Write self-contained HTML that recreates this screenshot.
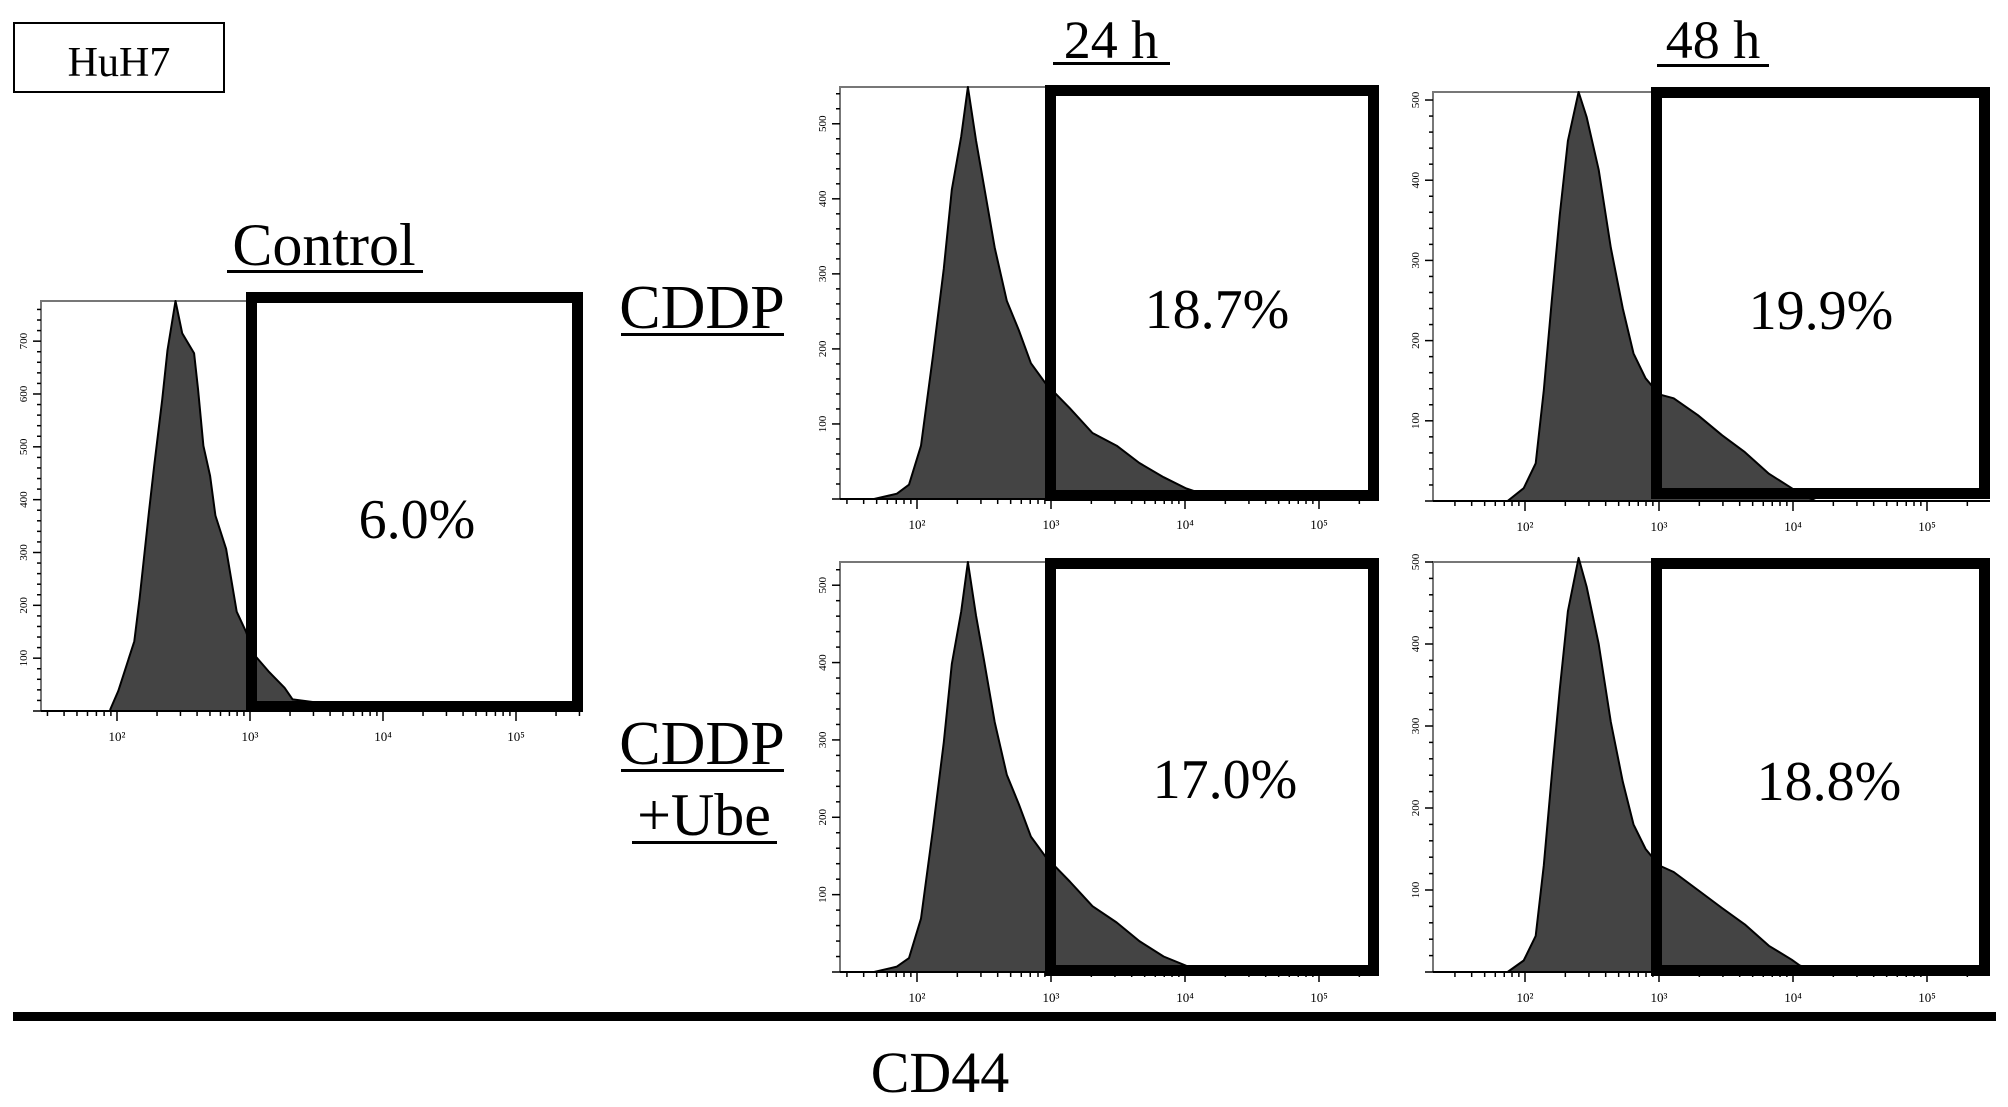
<!DOCTYPE html>
<html><head><meta charset="utf-8"><style>
html,body{margin:0;padding:0;background:#fff;}
svg{display:block;}
text{font-family:"Liberation Serif",serif;fill:#000;}
</style></head><body>
<svg id="fig" width="2008" height="1107" viewBox="0 0 2008 1107" xmlns="http://www.w3.org/2000/svg">
<rect x="0" y="0" width="2008" height="1107" fill="#fff"/>
<rect x="14" y="23" width="210" height="69" fill="none" stroke="#000" stroke-width="2"/>
<text x="119" y="76" font-size="42" text-anchor="middle">HuH7</text>
<text x="324" y="265" font-size="60" text-anchor="middle">Control</text>
<rect x="227" y="270" width="196" height="3" fill="#000"/>
<text x="1111" y="58" font-size="54" text-anchor="middle">24 h</text>
<rect x="1053" y="62" width="117" height="3" fill="#000"/>
<text x="1713" y="58" font-size="54" text-anchor="middle">48 h</text>
<rect x="1657" y="64" width="112" height="3" fill="#000"/>
<text x="702" y="328" font-size="62" text-anchor="middle">CDDP</text>
<rect x="621" y="333" width="163" height="3" fill="#000"/>
<text x="702" y="764" font-size="62" text-anchor="middle">CDDP</text>
<rect x="621" y="769" width="163" height="3" fill="#000"/>
<text x="704" y="835" font-size="60" text-anchor="middle">+Ube</text>
<rect x="632" y="841" width="145" height="3" fill="#000"/>
<g id="panels"></g>
<rect x="13" y="1012" width="1983" height="9" fill="#000"/>
<text x="940" y="1092" font-size="58" text-anchor="middle">CD44</text>
</svg>
<script>
// Control histogram (log10 CD44, counts)
const ctrlLog = [1.95,2.01,2.13,2.17,2.24,2.28,2.34,2.38,2.44,2.49,2.58,2.61,2.65,2.70,2.74,2.82,2.90,2.97,3.03,3.14,3.26,3.32,3.50,3.56];
const ctrlCounts = [3,38,132,213,376,464,589,683,776,715,677,608,502,445,370,307,188,150,107,75,44,22,16,0];
// CDDP 24h
const c24Log = [1.68,1.85,1.94,2.03,2.12,2.20,2.26,2.33,2.38,2.44,2.50,2.58,2.67,2.76,2.85,2.96,3.14,3.31,3.49,3.66,3.84,4.01,4.16,4.19];
const c24Counts = [0,7,19,71,192,307,412,483,549,478,417,335,264,225,181,154,121,88,71,48,29,14,5,0];
// CDDP 48h
const c48Log = [1.87,1.99,2.08,2.14,2.20,2.26,2.32,2.40,2.46,2.55,2.64,2.73,2.81,2.90,3.00,3.11,3.29,3.47,3.64,3.82,3.99,4.05,4.17];
const c48Counts = [0,16,47,138,250,357,449,510,479,413,316,240,184,153,133,128,107,82,61,34,16,9,0];
// CDDP+Ube 24h
const u24Log = [1.68,1.85,1.94,2.03,2.12,2.20,2.26,2.33,2.38,2.44,2.50,2.58,2.67,2.76,2.85,2.96,3.14,3.31,3.49,3.66,3.84,4.01,4.10,4.12];
const u24Counts = [0,7,18,69,186,297,398,466,530,461,403,323,255,217,175,149,117,85,64,40,20,8,3,0];
// CDDP+Ube 48h
const u48Log = [1.87,1.99,2.08,2.14,2.20,2.26,2.32,2.40,2.46,2.55,2.64,2.73,2.81,2.90,3.00,3.11,3.29,3.47,3.64,3.82,3.99,4.05,4.20];
const u48Counts = [0,14,44,130,240,345,440,505,470,400,305,232,180,150,130,122,100,78,58,32,15,8,0];
// percentages in gate
const gateLabels = ["6.0%","18.7%","19.9%","17.0%","18.8%"];
const decadeLabels = ["10²","10³","10⁴","10⁵"];

const NS="http://www.w3.org/2000/svg";
const root=document.getElementById('panels');
function mk(tag,attrs,parent){const e=document.createElementNS(NS,tag);for(const k in attrs)e.setAttribute(k,attrs[k]);(parent||root).appendChild(e);return e;}

const panels=[
 {name:'control',logs:ctrlLog,counts:ctrlCounts,ymax:776,yStep:100,left:41,top:301,base:711,dec2:117,dw:133,gate:[246,292,583,712],lbl:gateLabels[0],lx:417,ly:538},
 {name:'cddp-24h',logs:c24Log,counts:c24Counts,ymax:549,yStep:100,left:840,top:87,base:499,dec2:917,dw:134,gate:[1045,85,1379,501],lbl:gateLabels[1],lx:1217,ly:328},
 {name:'cddp-48h',logs:c48Log,counts:c48Counts,ymax:510,yStep:100,left:1433,top:92,base:501,dec2:1525,dw:134,gate:[1651,87,1990,499],lbl:gateLabels[2],lx:1821,ly:329},
 {name:'cddp-ube-24h',logs:u24Log,counts:u24Counts,ymax:530,yStep:100,left:840,top:562,base:972,dec2:917,dw:134,gate:[1045,558,1379,976],lbl:gateLabels[3],lx:1225,ly:798},
 {name:'cddp-ube-48h',logs:u48Log,counts:u48Counts,ymax:500,yStep:100,left:1433,top:562,base:972,dec2:1525,dw:134,gate:[1651,558,1990,976],lbl:gateLabels[4],lx:1829,ly:800}
];

panels.forEach(p=>{
 const g=mk('g',{});
 
 
 const xs=v=>p.dec2+(v-2)*p.dw;
 const ys=c=>p.base-(c/p.ymax)*(p.base-p.top);
 const right=p.gate[2];
 // frame
 const fr=mk('path',{d:`M${p.left},${p.base}V${p.top}H${p.gate[0]}`,fill:'none',stroke:'#777','stroke-width':2},g);
 
 
 const xa=mk('line',{x1:p.left,y1:p.base,x2:right,y2:p.base,stroke:'#000','stroke-width':2},g);
 
 
 // x ticks
 for(let d=1;d<=5;d++){for(let m=1;m<10;m++){const v=d+Math.log10(m);const x=xs(v);if(x<p.left||x>right)continue;
  const t=mk('line',{x1:x,y1:p.base,x2:x,y2:p.base+(m===1?10:5),stroke:'#000','stroke-width':1.5},g);
  
  }}
 decadeLabels.forEach((s,i)=>{const t=mk('text',{x:xs(2+i),y:p.base+30,'font-size':13,'text-anchor':'middle',fill:'#333'},g);t.textContent=s;
  
  });
 // y ticks
 for(let c=0;c<=p.ymax;c+=p.yStep/5){const y=ys(c);const major=(c%p.yStep===0);
  const t=mk('line',{x1:p.left-(major?8:4),y1:y,x2:p.left,y2:y,stroke:'#000','stroke-width':1.5},g);
  
  
  if(major&&c>0){const l=mk('text',{x:p.left-14,y:y,'font-size':11,'text-anchor':'middle',fill:'#333',transform:`rotate(-90 ${p.left-14} ${y})`},g);l.textContent=String(c);
   
   }}
 // histogram
 let d=`M${xs(p.logs[0])},${p.base}`;
 p.logs.forEach((v,i)=>{d+=`L${xs(v).toFixed(1)},${ys(p.counts[i]).toFixed(1)}`;});
 d+=`L${xs(p.logs[p.logs.length-1])},${p.base}Z`;
 const h=mk('path',{d:d,fill:'#444',stroke:'#000','stroke-width':2,'stroke-linejoin':'round'},g);
 
 
 // gate
 const [x0,y0,x1,y1]=p.gate;const sw=11;
 const gr=mk('rect',{x:x0+sw/2,y:y0+sw/2,width:x1-x0-sw,height:y1-y0-sw,fill:'none',stroke:'#000','stroke-width':sw},g);
 
 
 const lt=mk('text',{x:p.lx,y:p.ly,'font-size':56,'text-anchor':'middle'},g);lt.textContent=p.lbl;
 
 
});
</script>
</body></html>
